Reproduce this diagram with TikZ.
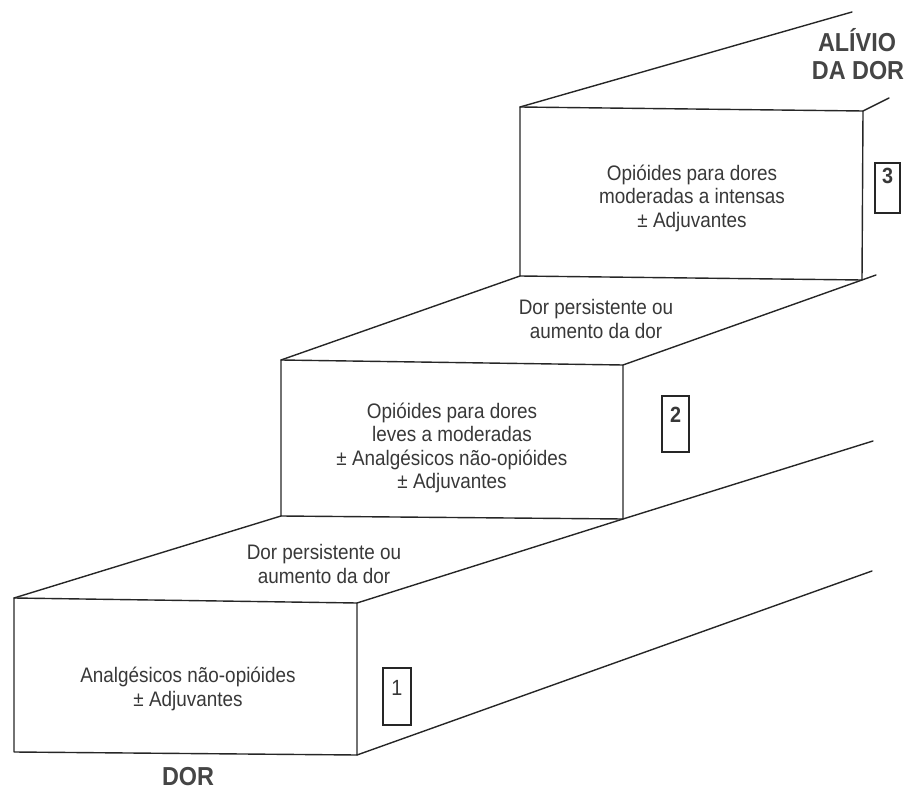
\documentclass[tikz,border=0pt]{standalone}
\usepackage{fontspec}
\setmainfont{Liberation Sans}
\newfontfamily\condfont[FakeStretch=0.9]{Liberation Sans}
\definecolor{inkline}{HTML}{262626}
\definecolor{inktext}{HTML}{383838}
\definecolor{inkbig}{HTML}{454545}
\begin{document}
\begin{tikzpicture}[x=1pt,y=-1pt,
  edge/.style={draw=inkline, line width=1.4pt, line join=round, line cap=round},
  lbl/.style={align=center, text=inktext, font=\condfont\fontsize{21}{23.5}\selectfont, inner sep=0pt},
  big/.style={text=inkbig, font=\condfont\fontsize{26}{28}\selectfont\bfseries, inner sep=0pt, anchor=base},
  numbox/.style={draw=inkline, line width=1.2pt, inner sep=0pt},
  num/.style={font=\condfont\fontsize{22}{24}\selectfont\bfseries, text=inktext, inner sep=0pt}]
\useasboundingbox (0,0) rectangle (908,791);
% box 1 corners
\coordinate (b1tl) at (14,598);
\coordinate (b1tr) at (357,603);
\coordinate (b1br) at (357,755);
\coordinate (b1bl) at (14,752);
% box 2 corners
\coordinate (b2tl) at (281,360);
\coordinate (b2tr) at (623,365);
\coordinate (b2br) at (623,519);
\coordinate (b2bl) at (281,516);
% box 3 corners
\coordinate (b3tl) at (520,107);
\coordinate (b3tr) at (863,111);
\coordinate (b3br) at (862,280);
\coordinate (b3bl) at (520,276);
% free ends
\coordinate (e0) at (852,12);
\coordinate (e1) at (889,98);
\coordinate (e2) at (876,275);
\coordinate (e3) at (873,441);
\coordinate (e4) at (872,571);
% front faces
\draw[edge] (b1tl) -- (b1tr) -- (b1br) -- (b1bl) -- cycle;
\draw[edge] (b2tl) -- (b2tr) -- (b2br) -- (b2bl) -- cycle;
\draw[edge] (b3tl) -- (b3tr) -- (b3br) -- (b3bl) -- cycle;
% receding edges
\draw[edge] (b1tl) -- (b2bl);
\draw[edge] (b1tr) -- (b2br) -- (e3);
\draw[edge] (b2tl) -- (b3bl);
\draw[edge] (b2tr) -- (b3br) -- (e2);
\draw[edge] (b3tl) -- (e0);
\draw[edge] (b3tr) -- (e1);
\draw[edge] (b1br) -- (e4);
% step labels
\node[lbl] (t3) at (692,198) {Opióides para dores\\moderadas a intensas\\± Adjuvantes};
\node[lbl] (s2) at (596,319) {Dor persistente ou\\aumento da dor};
\node[lbl] (t2) at (452,448) {Opióides para dores\\leves a moderadas\\± Analgésicos não-opióides\\± Adjuvantes};
\node[lbl] (s1) at (324,564) {Dor persistente ou\\aumento da dor};
\node[lbl] (t1) at (188,689) {Analgésicos não-opióides\\± Adjuvantes};
% number boxes
\node[numbox, minimum width=28pt, minimum height=57pt] (n1) at (397,696.5) {};
\node[num, font=\condfont\fontsize{22}{24}\selectfont] (n1t) at (397,688) {1};
\node[numbox, minimum width=27pt, minimum height=56pt] (n2) at (675.5,424) {};
\node[num] (n2t) at (675.5,415) {2};
\node[numbox, minimum width=25pt, minimum height=50pt] (n3) at (887.5,188) {};
\node[num] (n3t) at (887.5,176) {3};
% titles
\node[big] (alivio) at (857,52) {ALÍVIO};
\node[big] (dador) at (858,80) {DA DOR};
\node[big] (dor) at (188,785) {DOR};
\end{tikzpicture}
\end{document}
